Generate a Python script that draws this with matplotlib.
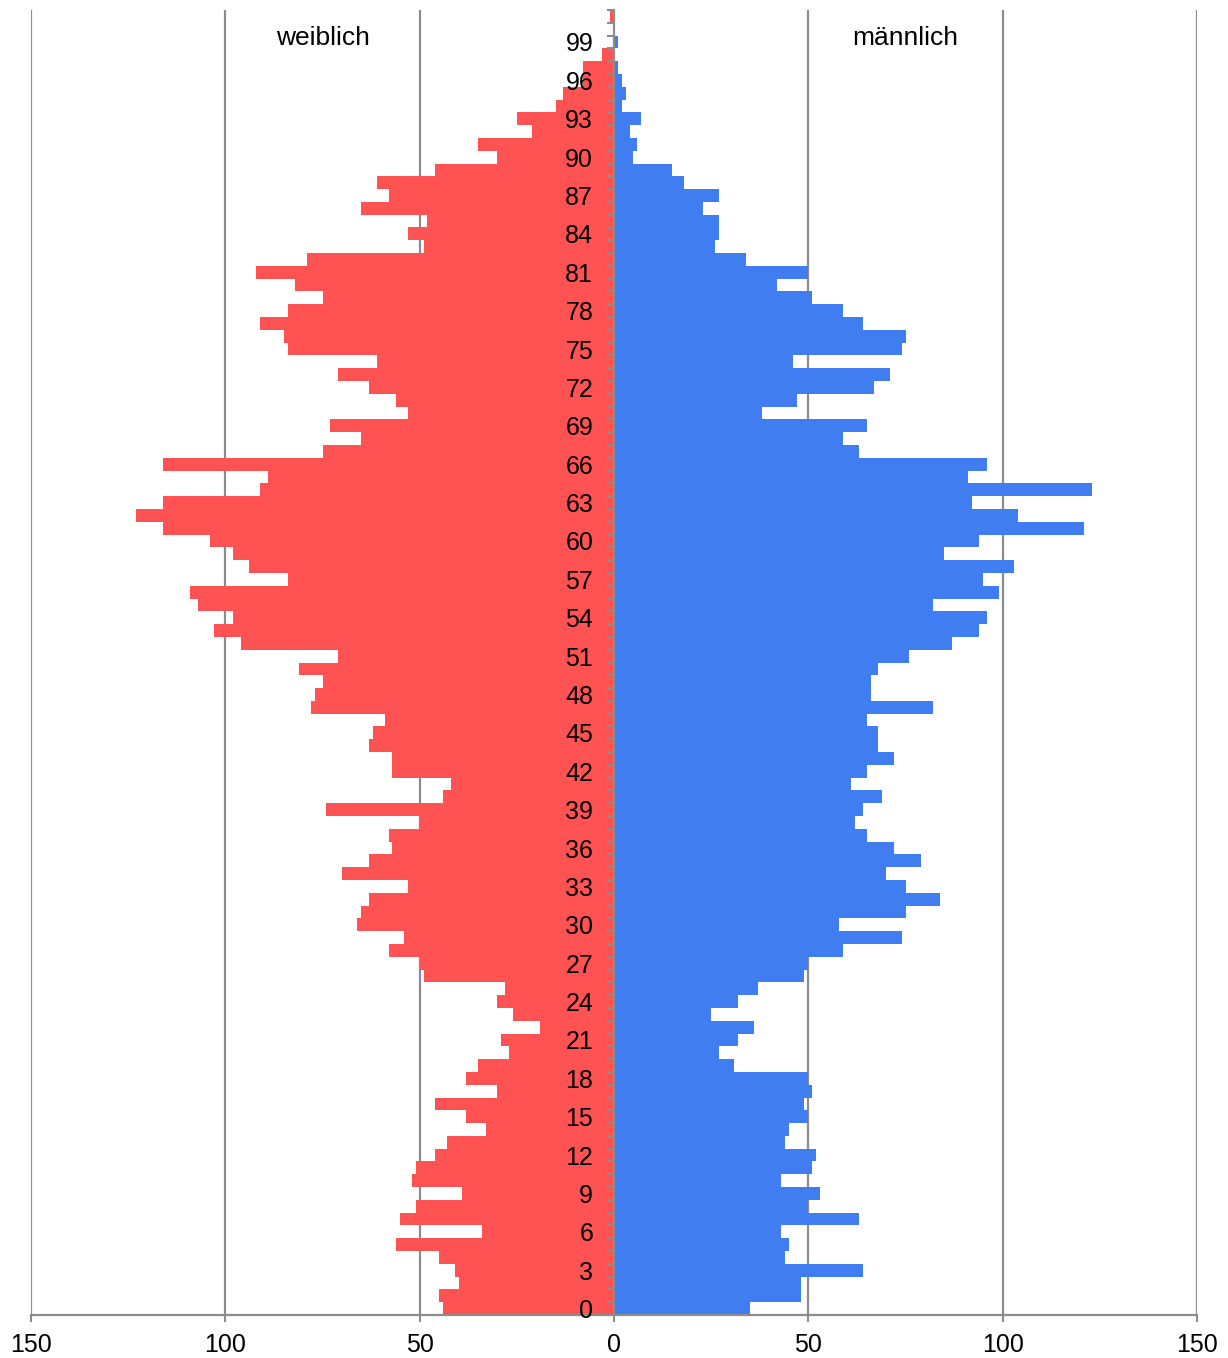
import matplotlib
matplotlib.use("Agg")
import matplotlib.pyplot as plt
import matplotlib.transforms as mtransforms
from matplotlib.ticker import FixedLocator, FuncFormatter
import numpy as np

# ---------------- data ----------------
ages = list(range(0, 102))
female = [44, 45, 40, 41, 45, 56, 34, 55, 51, 39,
          52, 51, 46, 43, 33, 38, 46, 30, 38, 35,
          27, 29, 19, 26, 30, 28, 49, 50, 58, 54,
          66, 65, 63, 53, 70, 63, 57, 58, 50, 74,
          44, 42, 57, 57, 63, 62, 59, 78, 77, 75,
          81, 71, 96, 103, 98, 107, 109, 84, 94, 98,
          104, 116, 123, 116, 91, 89, 116, 75, 65, 73,
          53, 56, 63, 71, 61, 84, 85, 91, 84, 75,
          82, 92, 79, 49, 53, 48, 65, 58, 61, 46,
          30, 35, 21, 25, 15, 13, 8, 8, 3, 0,
          0, 1]
male = [35, 48, 48, 64, 44, 45, 43, 63, 50, 53,
        43, 51, 52, 44, 45, 50, 49, 51, 50, 31,
        27, 32, 36, 25, 32, 37, 49, 50, 59, 74,
        58, 75, 84, 75, 70, 79, 72, 65, 62, 64,
        69, 61, 65, 72, 68, 68, 65, 82, 66, 66,
        68, 76, 87, 94, 96, 82, 99, 95, 103, 85,
        94, 121, 104, 92, 123, 91, 96, 63, 59, 65,
        38, 47, 67, 71, 46, 74, 75, 64, 59, 51,
        42, 50, 34, 26, 27, 27, 23, 27, 18, 15,
        5, 6, 4, 7, 2, 3, 2, 1, 0, 1,
        0, 0]
x_ticks = [-150, -100, -50, 0, 50, 100, 150]
age_labels = list(range(0, 100, 3))
label_female = "weiblich"
label_male = "männlich"

# ---------------- style ----------------
plt.rcParams['font.family'] = ['Liberation Sans', 'DejaVu Sans']
RED = '#FF5252'
BLUE = '#3F7DF0'
GRID = '#8C8C8C'
FS = 18

W, H = 1228, 1358
fig = plt.figure(figsize=(W / 100, H / 100), dpi=100)
ax = fig.add_axes([31 / W, 43 / H, 1166 / W, 1305 / H])

ax.barh(ages, [-v for v in female], height=1.0, color=RED, linewidth=0, zorder=1)
ax.barh(ages, male, height=1.0, color=BLUE, linewidth=0, zorder=1)

ax.set_xlim(x_ticks[0], x_ticks[-1])
ax.set_ylim(ages[0] - 0.5, ages[-1] + 0.5)

for xv in x_ticks:
    if xv != 0:
        ax.axvline(xv, color=GRID, lw=1.6, zorder=0.5)

ax.set_axisbelow(False)
for s in ['top', 'right']:
    ax.spines[s].set_visible(False)
ax.spines['left'].set_position(('data', 0))
ax.spines['left'].set_color(GRID)
ax.spines['left'].set_linewidth(1.6)
ax.spines['bottom'].set_color(GRID)
ax.spines['bottom'].set_linewidth(1.6)

# y axis: labels at band centres, small ticks at band boundaries
ax.yaxis.set_major_locator(FixedLocator(age_labels))
ax.yaxis.set_major_formatter(FuncFormatter(lambda v, p: f"{int(round(v))}"))
ax.yaxis.set_minor_locator(FixedLocator(np.arange(ages[0] - 0.5, ages[-1] + 1, 1.0)))
ax.tick_params(axis='y', which='major', length=0, pad=15, labelsize=FS, labelcolor='black')
ax.tick_params(axis='y', which='minor', length=5, width=1.5, color=GRID, direction='out')

# x axis
ax.xaxis.set_major_locator(FixedLocator(x_ticks))
ax.xaxis.set_major_formatter(FuncFormatter(lambda v, p: f"{abs(int(round(v)))}"))
ax.tick_params(axis='x', which='major', length=5, width=1.5, color=GRID, pad=8,
               labelsize=FS, labelcolor='black')

trans = mtransforms.blended_transform_factory(ax.transData, ax.transAxes)
ax.text(-75, (1315 - 45) / 1305, label_female, transform=trans, ha='center',
        va='baseline', fontsize=19, color='black')
ax.text(75, (1315 - 45) / 1305, label_male, transform=trans, ha='center',
        va='baseline', fontsize=19, color='black')

fig.savefig('out.png', dpi=100)
